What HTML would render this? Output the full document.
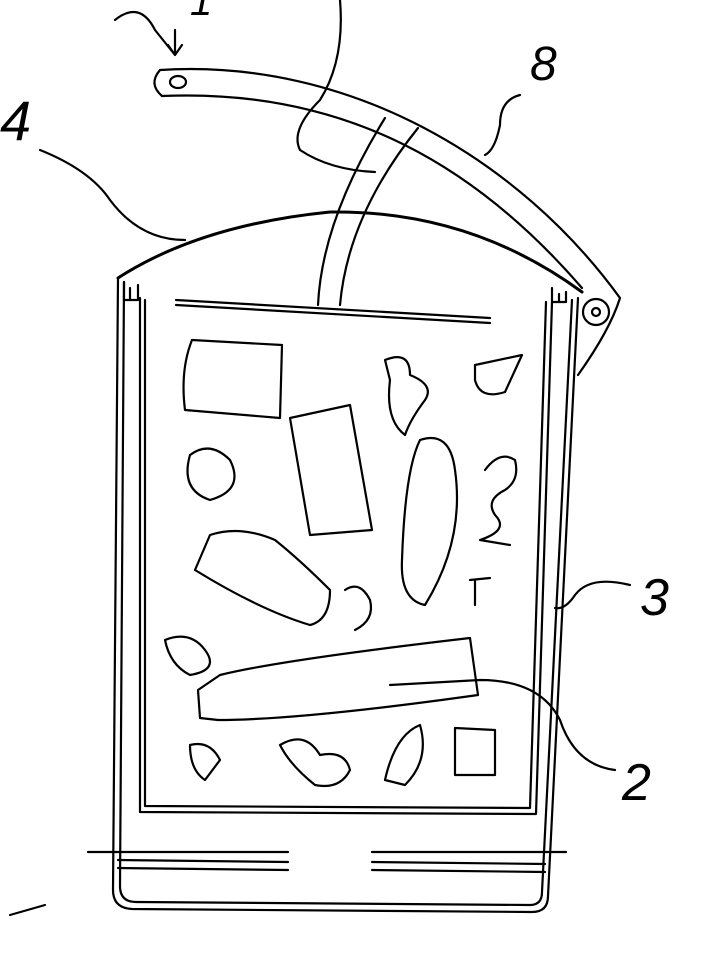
<!DOCTYPE html>
<html><head><meta charset="utf-8"><style>
html,body{margin:0;padding:0;background:#fff;}
svg{display:block;}
text{font-family:"Liberation Sans",sans-serif;font-style:italic;fill:#000;}
</style></head><body>
<svg width="709" height="957" viewBox="0 0 709 957" xmlns="http://www.w3.org/2000/svg" fill="none" stroke="#000" stroke-width="2.2" stroke-linecap="round" stroke-linejoin="round">
<path d="M118 278 Q200 225 330 212 Q470 210 582 292" stroke-width="3"/>
<path d="M118 278 L113 890 Q113 908 132 909 L532 912 Q548 912 548 896 L578 298"/>
<path d="M124 282 L120 886 Q120 902 136 902 L530 905 Q542 905 542 892 L572 300"/>
<path d="M124 282 L124 300 L138 300 L138 285 M130 300 L130 288"/>
<path d="M552 288 L552 302 L566 302 L566 292 M559 302 L559 294"/>
<path d="M145 300 L145 806 L530 808 L546 302"/>
<path d="M140 298 L140 812 L536 814 L552 302"/>
<path d="M176 300 L490 318 M176 305 L490 323"/>
<path d="M88 852 L288 852 M372 852 L566 852 M118 860 L288 862 M372 862 L545 864 M118 868 L288 870 M372 870 L545 872"/>
<!-- handle -->
<path d="M160 70 C350 58 520 160 620 298 Q610 330 578 375"/>
<path d="M162 96 C350 88 480 170 582 288"/>
<path d="M160 70 Q148 84 162 96"/>
<ellipse cx="178" cy="82" rx="8" ry="6"/>
<circle cx="596" cy="312" r="13"/>
<circle cx="596" cy="312" r="4"/>
<path d="M318 305 Q322 220 385 118 M340 305 Q348 215 418 128"/>
<!-- contents -->
<path d="M192 340 L282 345 L280 418 L185 410 Q180 370 192 340Z"/>
<path d="M385 360 Q410 350 410 375 Q435 385 425 400 Q410 420 405 435 Q385 420 390 380Z"/>
<path d="M475 365 L522 355 L505 392 Q480 400 475 380Z"/>
<path d="M290 418 L350 405 L372 530 L310 535Z"/>
<path d="M420 440 Q450 430 455 470 Q465 540 425 605 Q400 600 402 560 Q405 470 420 440Z"/>
<path d="M190 455 Q210 440 230 460 Q245 490 210 500 Q180 490 190 455Z"/>
<path d="M485 470 Q500 450 515 460 Q520 480 505 490 Q485 500 495 515 Q510 530 480 540 L510 545"/>
<path d="M210 535 Q240 525 275 540 Q300 560 330 590 Q330 620 310 625 Q260 610 195 570Z"/>
<path d="M345 590 Q360 580 370 600 Q375 620 355 630"/>
<path d="M470 580 L490 578 M475 580 L475 605"/>
<path d="M165 640 Q190 630 205 650 Q220 670 190 675 Q170 665 165 640Z"/>
<path d="M220 675 Q280 660 470 638 L478 695 Q300 720 218 720 L200 718 L198 690 Z"/>
<path d="M190 745 Q210 740 220 760 L205 780 Q190 770 190 745Z"/>
<path d="M280 745 Q305 730 320 755 Q345 750 350 770 Q340 790 315 785 Q290 765 280 745Z"/>
<path d="M385 780 Q395 735 420 725 Q430 760 405 785 Z"/>
<path d="M455 728 L495 730 L495 775 L455 775Z"/>
<!-- leaders -->
<path d="M40 150 Q90 170 110 200 Q140 240 185 240"/>
<path d="M520 95 Q500 100 500 125 Q495 150 485 155"/>
<path d="M630 585 Q590 575 575 595 Q565 610 555 608"/>
<path d="M615 770 Q575 765 560 720 Q540 680 480 680 L390 685"/>
<path d="M115 20 Q140 0 155 30 L175 55 M175 30 L175 55 L168 45 M175 55 L182 45"/>
<path d="M340 0 Q345 60 320 100 Q290 130 300 150 Q330 170 375 172"/>
<path d="M10 915 L45 905"/>
<text x="0" y="140" font-size="56" stroke="none">4</text>
<text x="530" y="80" font-size="48" stroke="none">8</text>
<text x="640" y="615" font-size="52" stroke="none">3</text>
<text x="622" y="800" font-size="52" stroke="none">2</text>
<text x="190" y="15" font-size="40" stroke="none">1</text>
</svg>
</body></html>
